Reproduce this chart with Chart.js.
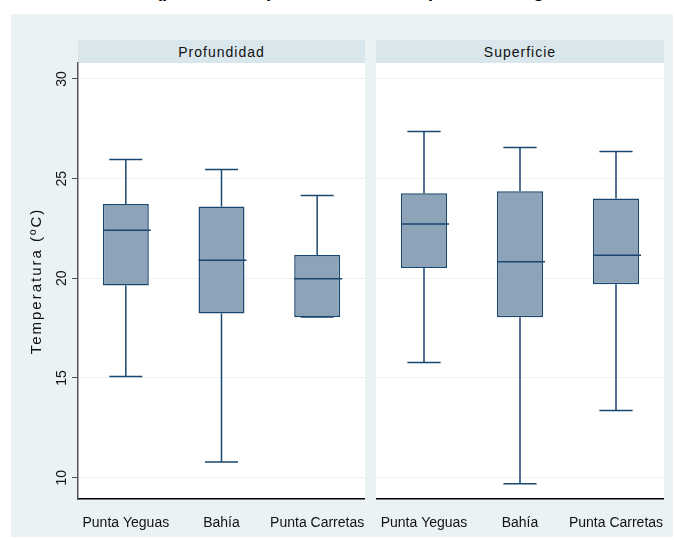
<!DOCTYPE html>
<html>
<head>
<meta charset="utf-8">
<script src="https://cdn.jsdelivr.net/npm/chart.js@4.4.1/dist/chart.umd.min.js"></script>
<style>
  body { margin: 0; background: #fff; font-family: "Liberation Sans", Arial, sans-serif; }
  #bg { position: absolute; left: 11px; top: 14px; width: 662px; height: 523px; background: #eaf2f3; }
  .head { position: absolute; top: 40px; height: 23px; background: #d9e6eb; text-align: center;
          font-size: 14px; letter-spacing: 1px; line-height: 24px; color: #111; }
  .plot { position: absolute; top: 63px; height: 436px; background: #fff; }
  #title { position: absolute; left: 90px; top: -18px; font: bold 18px "Liberation Sans", Arial, sans-serif;
           line-height: 18px; white-space: nowrap; color: #000; }
  canvas { position: absolute; top: 40px; }
</style>
</head>
<body>
<div id="bg"></div>
<div id="title">Medias (profundidad) en cada estación para cada lugar</div>
<div class="head" style="left:78px;width:287px;">Profundidad</div>
<div class="head" style="left:376px;width:288px;">Superficie</div>
<div class="plot" style="left:78px;width:287px;"></div>
<div class="plot" style="left:376px;width:288px;"></div>
<canvas id="profChart" width="365" height="500" style="left:0px;"></canvas>
<canvas id="supChart" width="288" height="500" style="left:376px;"></canvas>
<script>
// Sites and axis ticks
const sites = ['Punta Yeguas', 'Bahía', 'Punta Carretas'];
const yTicks = [10, 15, 20, 25, 30];
const yTitle = 'Temperatura (ºC)';

// Profundidad (box plot stats)
const profMin = [15.07, 10.78, 18.06];
const profQ1 = [19.64, 18.24, 18.06];
const profMed = [22.41, 20.9, 19.98];
const profQ3 = [23.73, 23.6, 21.17];
const profMax = [25.96, 25.46, 24.15];

// Superficie (box plot stats)
const supMin = [15.78, 9.69, 13.37];
const supQ1 = [20.52, 18.05, 19.7];
const supMed = [22.72, 20.83, 21.16];
const supQ3 = [24.27, 24.37, 24.0];
const supMax = [27.36, 26.56, 26.36];

const navy = '#1a476f';
const boxFill = '#8ca3b8';
const fontFamily = '"Liberation Sans", Arial, sans-serif';

function boxChart(id, mins, q1, med, q3, maxs, withAxis) {
    // whiskers, caps and median drawn on top of the floating bars
    const whiskers = {
        id: 'whiskers',
        afterDatasetsDraw(chart) {
            const ctx = chart.ctx;
            const y = chart.scales.y;
            chart.getDatasetMeta(0).data.forEach((bar, i) => {
                const half = bar.width / 2;
                const cap = bar.width * 0.36;
                ctx.save();
                ctx.strokeStyle = navy;
                ctx.lineWidth = 1.5;
                ctx.beginPath();
                ctx.moveTo(bar.x, y.getPixelForValue(q3[i]));
                ctx.lineTo(bar.x, y.getPixelForValue(maxs[i]));
                ctx.moveTo(bar.x - cap, y.getPixelForValue(maxs[i]));
                ctx.lineTo(bar.x + cap, y.getPixelForValue(maxs[i]));
                ctx.moveTo(bar.x, y.getPixelForValue(q1[i]));
                ctx.lineTo(bar.x, y.getPixelForValue(mins[i]));
                ctx.moveTo(bar.x - cap, y.getPixelForValue(mins[i]));
                ctx.lineTo(bar.x + cap, y.getPixelForValue(mins[i]));
                ctx.moveTo(bar.x - half, y.getPixelForValue(med[i]));
                ctx.lineTo(bar.x + half + 2, y.getPixelForValue(med[i]));
                ctx.stroke();
                ctx.restore();
            });
        },
        afterDraw(chart) {
            if (!withAxis) return;
            // vertical tick labels and spaced axis title like the original
            const ctx = chart.ctx;
            const y = chart.scales.y;
            ctx.save();
            ctx.font = '14px ' + fontFamily;
            ctx.fillStyle = '#111';
            ctx.textAlign = 'center';
            ctx.textBaseline = 'middle';
            y.ticks.forEach(t => {
                ctx.save();
                ctx.translate(y.right - 16, y.getPixelForValue(t.value));
                ctx.rotate(-Math.PI / 2);
                ctx.fillText(String(t.value), 0, 0);
                ctx.restore();
            });
            ctx.font = '15px ' + fontFamily;
            ctx.letterSpacing = '2px';
            ctx.translate(y.left + 37, (y.top + y.bottom) / 2);
            ctx.rotate(-Math.PI / 2);
            ctx.fillText(yTitle, 0, 0);
            ctx.restore();
        }
    };

    return new Chart(document.getElementById(id).getContext('2d'), {
        type: 'bar',
        data: {
            labels: sites,
            datasets: [{
                data: q1.map((v, i) => [v, q3[i]]),
                backgroundColor: boxFill,
                borderColor: navy,
                borderWidth: 1.5,
                borderSkipped: false,
                categoryPercentage: 1,
                barPercentage: 0.48,
            }]
        },
        options: {
            responsive: false,
            animation: false,
            layout: { padding: { top: 23, left: 0, right: 0, bottom: 0 } },
            scales: {
                x: {
                    grid: { display: false },
                    border: { color: '#000', width: 1.5 },
                    ticks: {
                        color: '#111',
                        font: { size: 14, family: fontFamily },
                        padding: 8,
                        minRotation: 0,
                        maxRotation: 0,
                        autoSkip: false
                    },
                    afterFit: s => {
                        s.height = 41;
                        s.paddingLeft = 0;
                        s.paddingRight = 0;
                    }
                },
                y: {
                    min: 8.93,
                    max: 30.8,
                    afterBuildTicks: s => { s.ticks = yTicks.map(v => ({ value: v })); },
                    afterFit: s => { s.width = withAxis ? 78 : 0; },
                    ticks: { display: false },
                    grid: { color: '#eaf2f3', lineWidth: 1, drawTicks: withAxis, tickColor: '#555', tickLength: 6 },
                    border: { display: withAxis, color: '#555', width: 1.5 }
                }
            },
            plugins: {
                legend: { display: false },
                tooltip: { enabled: false }
            }
        },
        plugins: [whiskers]
    });
}

const profChart = boxChart('profChart', profMin, profQ1, profMed, profQ3, profMax, true);
const supChart = boxChart('supChart', supMin, supQ1, supMed, supQ3, supMax, false);
</script>
</body>
</html>
